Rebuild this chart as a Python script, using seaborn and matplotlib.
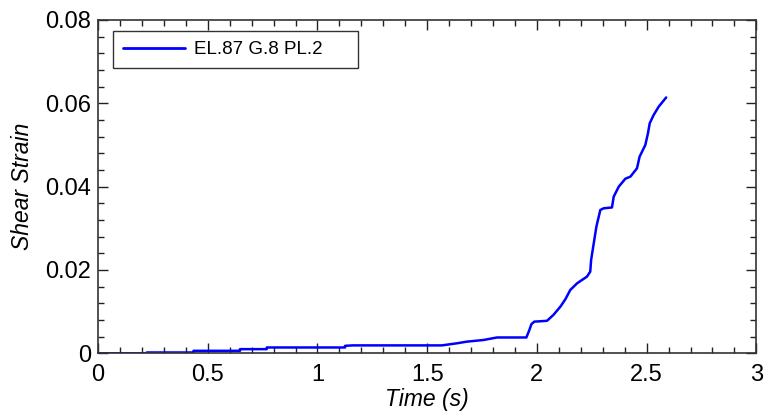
import matplotlib
matplotlib.use("Agg")
import matplotlib.pyplot as plt
import seaborn as sns
import pandas as pd
from matplotlib.ticker import MultipleLocator

time_s = [0, 0.222, 0.222, 0.435, 0.435, 0.647, 0.647, 0.769, 0.769, 1.126, 1.126, 1.16,
          1.567, 1.635, 1.681, 1.757, 1.818, 1.952, 1.965, 1.975, 1.988, 2.046, 2.075,
          2.107, 2.13, 2.152, 2.183, 2.228, 2.243, 2.247, 2.259, 2.271, 2.289, 2.304,
          2.342, 2.35, 2.373, 2.403, 2.426, 2.456, 2.468, 2.494, 2.506, 2.514, 2.532,
          2.555, 2.589]
strain = [0, 0, 0.0002, 0.0002, 0.0006, 0.0006, 0.001, 0.001, 0.0014, 0.0014, 0.0018, 0.0019,
          0.0019, 0.0024, 0.0028, 0.0032, 0.0038, 0.0038, 0.0055, 0.0070, 0.0076, 0.0078, 0.0092,
          0.0112, 0.0130, 0.0152, 0.0168, 0.0184, 0.0196, 0.0224, 0.0264, 0.0304, 0.0344, 0.0348,
          0.035, 0.0376, 0.04, 0.0419, 0.0424, 0.0444, 0.0472, 0.05, 0.0528, 0.0552, 0.0572,
          0.0592, 0.0614]
series_name = "EL.87 G.8 PL.2"
x_ticks = [0, 0.5, 1, 1.5, 2, 2.5, 3]
x_tick_labels = ["0", "0.5", "1", "1.5", "2", "2.5", "3"]
y_ticks = [0, 0.02, 0.04, 0.06, 0.08]
y_tick_labels = ["0", "0.02", "0.04", "0.06", "0.08"]

sns.set_style("white")
plt.rcParams['font.family'] = ['Liberation Sans', 'DejaVu Sans']
plt.rcParams['text.color'] = 'black'
plt.rcParams['axes.labelcolor'] = 'black'

df = pd.DataFrame({"Time": time_s, "Strain": strain, "series": series_name})

fig = plt.figure(figsize=(7.64, 4.16), dpi=100)
ax = fig.add_axes([0.1283, 0.1507, 0.990 - 0.1283, 0.952 - 0.1507])
sns.lineplot(data=df, x="Time", y="Strain", hue="series", palette=["#0000ff"],
             sort=False, estimator=None, linewidth=1.8, ax=ax)

ax.set_xlim(0, 3)
ax.set_ylim(0, 0.08)
ax.set_xticks(x_ticks)
ax.set_xticklabels(x_tick_labels)
ax.set_yticks(y_ticks)
ax.set_yticklabels(y_tick_labels)
ax.xaxis.set_minor_locator(MultipleLocator(0.1))
ax.yaxis.set_minor_locator(MultipleLocator(0.004))
ax.tick_params(which="both", direction="in", top=True, right=True, bottom=True, left=True,
               color="#222222", width=1)
ax.tick_params(which="major", length=7, labelsize=17, labelcolor="black")
ax.tick_params(axis="x", which="major", pad=8)
ax.tick_params(axis="y", which="major", pad=5)
ax.tick_params(which="minor", length=4.5)
for s in ax.spines.values():
    s.set_color("#333333")
    s.set_linewidth(1.2)

ax.set_xlabel("Time (s)", fontsize=16.5, style="italic", labelpad=1, color="black")
ax.set_ylabel("Shear Strain", fontsize=16.5, style="italic", labelpad=8, color="black")

leg = ax.legend(loc="upper left", bbox_to_anchor=(0.0223, 0.0, 0.373, 0.968), mode="expand",
                fontsize=13.5, frameon=True, fancybox=False, handlelength=3.3, borderpad=0.55,
                handletextpad=0.5, borderaxespad=0)
leg.get_frame().set_edgecolor("black")
leg.get_frame().set_linewidth(1.0)
for t in leg.get_texts():
    t.set_color("black")
for line in leg.get_lines():
    line.set_linewidth(2.0)

fig.savefig("out.png", dpi=100)
